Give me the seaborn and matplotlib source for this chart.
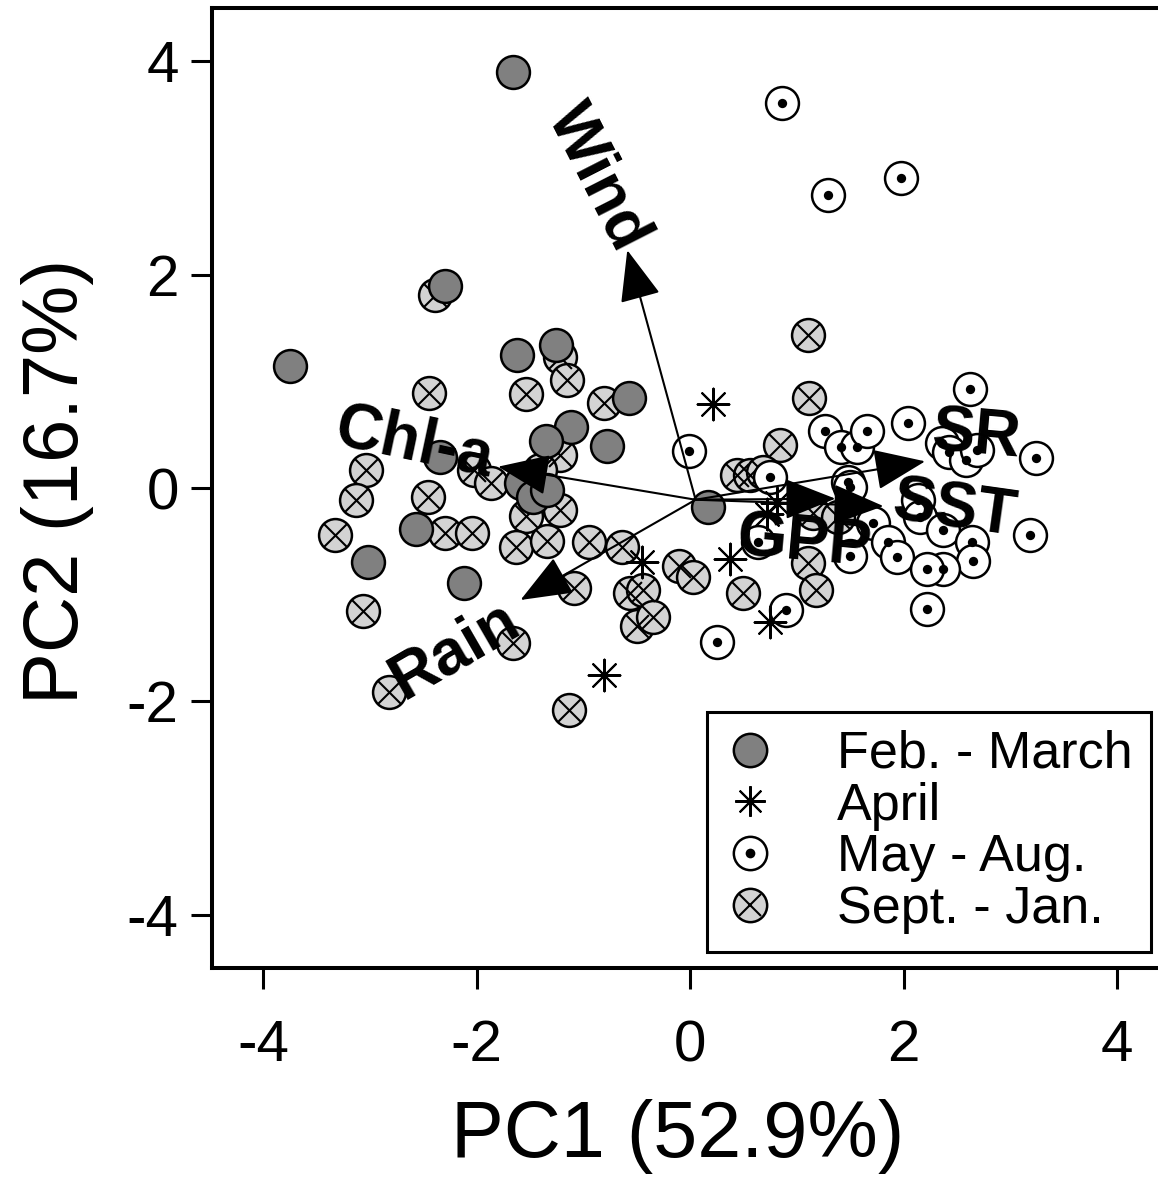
import pandas as pd
import matplotlib.pyplot as plt
import seaborn as sns
from matplotlib.lines import Line2D
from matplotlib.legend_handler import HandlerTuple

# PCA scores, one pair of lists per season group
feb_mar_pc1 = [-1.66, -3.75, -2.30, -1.62, -1.26, -0.57, -1.12, -1.35, -0.78, -2.34,
               -1.59, -1.47, -1.34, -2.57, -3.02, -2.12, 0.17]
feb_mar_pc2 = [3.90, 1.14, 1.89, 1.25, 1.34, 0.84, 0.57, 0.44, 0.39, 0.29,
               0.05, -0.08, -0.02, -0.38, -0.69, -0.89, -0.18]

april_pc1 = [0.21, 0.81, 0.72, 0.37, 0.75, -0.45, -0.81]
april_pc2 = [0.79, -0.14, -0.24, -0.67, -1.26, -0.69, -1.75]

may_aug_pc1 = [0.86, 1.29, 1.97, 2.62, -0.01, 1.26, 1.41, 1.56, 1.66, 2.04,
               2.36, 2.42, 2.58, 2.69, 3.24, 1.48, 1.50, 1.71, 1.85, 1.94,
               1.50, 2.13, 2.15, 2.37, 2.64, 2.65, 2.37, 2.22, 3.18, 2.22,
               0.90, 0.25, 0.63, 0.75]
may_aug_pc2 = [3.61, 2.75, 2.91, 0.93, 0.35, 0.53, 0.38, 0.38, 0.53, 0.61,
               0.42, 0.34, 0.26, 0.36, 0.28, 0.06, 0.01, -0.33, -0.51, -0.65,
               -0.64, -0.11, -0.27, -0.39, -0.51, -0.68, -0.76, -0.76, -0.44, -1.13,
               -1.14, -1.44, -0.51, 0.10]

sep_jan_pc1 = [-2.39, -1.22, -1.15, -2.45, -1.54, -0.81, -1.22, -3.04, -2.03, -1.87,
               -3.13, -2.46, -1.54, -1.22, -1.41, -3.33, -2.30, -2.04, -1.63, -1.34,
               -0.95, -0.64, -0.11, 0.03, -1.09, -0.56, -0.44, -0.50, -0.35, -3.07,
               -1.66, -2.82, -1.14, 1.10, 1.11, 0.84, 0.44, 0.56, 0.68, 1.15,
               1.38, 1.10, 1.18, 0.49]
sep_jan_pc2 = [1.81, 1.23, 1.01, 0.89, 0.88, 0.80, 0.31, 0.17, 0.17, 0.05,
               -0.11, -0.08, -0.26, -0.21, 0.17, -0.44, -0.42, -0.42, -0.55, -0.50,
               -0.51, -0.55, -0.73, -0.83, -0.94, -0.98, -0.96, -1.29, -1.21, -1.15,
               -1.45, -1.91, -2.08, 1.43, 0.84, 0.40, 0.12, 0.12, 0.15, -0.23,
               -0.27, -0.70, -0.96, -0.98]

# loading vectors (arrow tips) and the common origin
origin = (0.05, -0.11)
var_names = ['Wind', 'Chl-a', 'Rain', 'SR', 'GPP', 'SST']
var_pc1 = [-0.59, -1.80, -1.59, 2.20, 1.36, 1.81]
var_pc2 = [2.23, 0.20, -1.05, 0.25, -0.10, -0.17]
# label placement for each vector name
lab_pc1 = [-0.87, -2.59, -2.20, 2.68, 1.07, 2.47]
lab_pc2 = [2.91, 0.42, -1.52, 0.48, -0.52, -0.21]
lab_rot = [-63, -12, 30, -5, -5, -8]

seasons = ['Feb. - March', 'April', 'May - Aug.', 'Sept. - Jan.']

df = pd.concat([
    pd.DataFrame({'PC1': feb_mar_pc1, 'PC2': feb_mar_pc2, 'Season': seasons[0]}),
    pd.DataFrame({'PC1': april_pc1, 'PC2': april_pc2, 'Season': seasons[1]}),
    pd.DataFrame({'PC1': may_aug_pc1, 'PC2': may_aug_pc2, 'Season': seasons[2]}),
    pd.DataFrame({'PC1': sep_jan_pc1, 'PC2': sep_jan_pc2, 'Season': seasons[3]}),
], ignore_index=True)

sns.set_style('ticks')
plt.rcParams['font.family'] = ['Liberation Sans', 'DejaVu Sans']
plt.rcParams.update({'text.color': 'black', 'axes.labelcolor': 'black',
                     'xtick.color': 'black', 'ytick.color': 'black',
                     'axes.unicode_minus': False})

fig = plt.figure(figsize=(11.58, 11.87), dpi=100)
ax = fig.add_axes([212 / 1158, 219 / 1187, 964 / 1158, 960 / 1187])

big = 560    # circle marker area
asterisk = (8, 2, 0)

sj = df[df.Season == seasons[3]]
sns.scatterplot(data=sj, x='PC1', y='PC2', ax=ax, s=big, color='#d3d3d3',
                edgecolor='black', linewidth=1.8, zorder=2)
sns.scatterplot(data=sj, x='PC1', y='PC2', ax=ax, s=270, marker='x',
                color='black', linewidth=1.5, zorder=2.1)

fm = df[df.Season == seasons[0]]
sns.scatterplot(data=fm, x='PC1', y='PC2', ax=ax, s=big, color='#808080',
                edgecolor='black', linewidth=1.8, zorder=2.2)

ma = df[df.Season == seasons[2]]
sns.scatterplot(data=ma, x='PC1', y='PC2', ax=ax, s=big, color='white',
                edgecolor='black', linewidth=1.8, zorder=2.3)
sns.scatterplot(data=ma, x='PC1', y='PC2', ax=ax, s=45, color='black',
                edgecolor='black', linewidth=0, zorder=2.4)

ap = df[df.Season == seasons[1]]
sns.scatterplot(data=ap, x='PC1', y='PC2', ax=ax, s=520, marker=asterisk,
                color='black', linewidth=1.5, zorder=2.5)

# loading arrows
for name, vx, vy, tx, ty, rot in zip(var_names, var_pc1, var_pc2, lab_pc1, lab_pc2, lab_rot):
    ax.annotate('', xy=(vx, vy), xytext=origin,
                arrowprops=dict(arrowstyle='-|>,head_length=1.3,head_width=0.52',
                                mutation_scale=25, lw=1.5, color='black',
                                shrinkA=0, shrinkB=0), zorder=4)
    ax.text(tx, ty, name, fontsize=46, fontweight='bold', rotation=rot,
            rotation_mode='anchor', ha='center', va='center', zorder=5)

ax.set_xlim(-4.48, 4.55)
ax.set_ylim(-4.5, 4.5)
ax.set_xticks([-4, -2, 0, 2, 4])
ax.set_yticks([-4, -2, 0, 2, 4])
ax.tick_params(axis='both', direction='out', length=15, width=2.2, labelsize=42)
ax.tick_params(axis='x', pad=22)
ax.tick_params(axis='y', pad=9)
for sp in ax.spines.values():
    sp.set_linewidth(2.9)
    sp.set_color('black')

ax.set_xlabel('PC1 (52.9%)', fontsize=57)
ax.set_ylabel('PC2 (16.7%)', fontsize=56)
ax.xaxis.set_label_coords(0.483, -0.136)
ax.yaxis.set_label_coords(-0.122, 0.507)

# legend with composite symbols
h_fm = Line2D([], [], ls='none', marker='o', ms=24, mfc='#808080', mec='black', mew=1.8)
h_ap = Line2D([], [], ls='none', marker=asterisk, ms=22, color='black', mew=1.5)
h_ma = (Line2D([], [], ls='none', marker='o', ms=24, mfc='white', mec='black', mew=1.8),
        Line2D([], [], ls='none', marker='o', ms=7, mfc='black', mec='black', mew=0))
h_sj = (Line2D([], [], ls='none', marker='o', ms=24, mfc='#d3d3d3', mec='black', mew=1.8),
        Line2D([], [], ls='none', marker='x', ms=16.5, color='black', mew=1.5))
leg = ax.legend([h_fm, h_ap, h_ma, h_sj], seasons, loc='lower left',
                bbox_to_anchor=(0.5135, 0.0167), borderaxespad=0, fontsize=37.5,
                frameon=True, fancybox=False, edgecolor='black', framealpha=1,
                borderpad=0.35, handlelength=0.95, handletextpad=1.2,
                labelspacing=0.05, handler_map={tuple: HandlerTuple(ndivide=1)})
leg.get_frame().set_linewidth(2.2)
leg.set_zorder(6)

fig.savefig('out.png', dpi=100)
